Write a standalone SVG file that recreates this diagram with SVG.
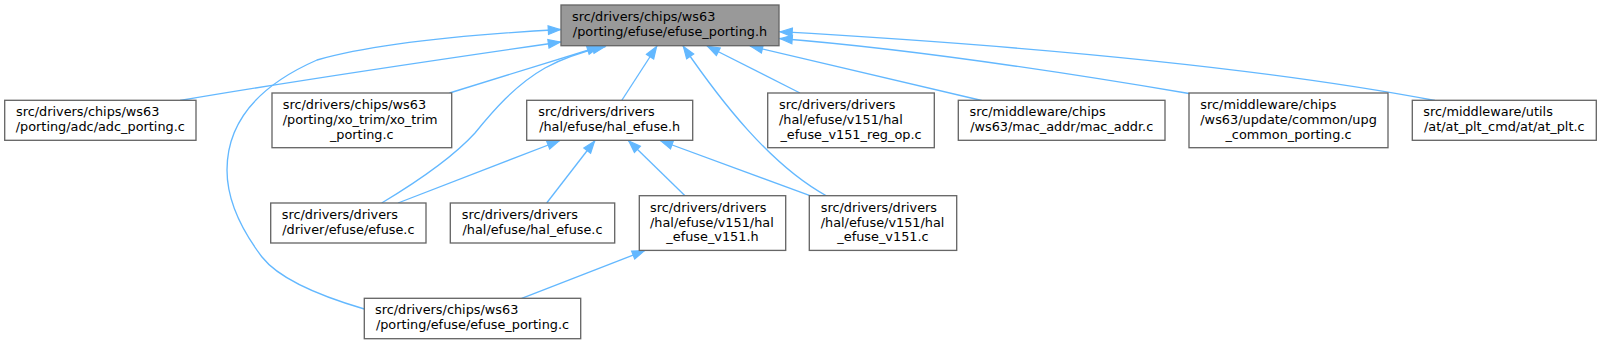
<svg xmlns="http://www.w3.org/2000/svg" width="1602" height="344" viewBox="0 0 1602 344">
<style>
.n rect{fill:#ffffff;stroke:#666666;stroke-width:1.33}
.m rect{fill:#999999;stroke:#666666;stroke-width:1.33}
text{font-family:"DejaVu Sans",sans-serif;font-size:12.85px;fill:#000000}
.c{text-anchor:middle}
.e path{fill:none;stroke:#63b8ff;stroke-width:1.33;marker-end:url(#a)}
</style>
<defs>
<marker id="a" markerUnits="userSpaceOnUse" markerWidth="16" markerHeight="12" refX="13.3" refY="4.67" orient="auto" overflow="visible">
<path d="M0.6,0.4 L12.6,4.67 L0.6,8.93 z" fill="#63b8ff" stroke="#63b8ff" stroke-width="1.2"/>
</marker>
</defs>
<rect width="1602" height="344" fill="#ffffff"/>
<g class="e" id="edges">
<path d="M180,100.5 C300,80 450,58 561,42"/>
<path d="M364.3,309 C320,296 280,280 262,257 C240,228 227,200 227,170 C227,120 260,85 317,60 C370,45 460,35 561,29.5"/>
<path d="M449.5,93 L600,46.5"/>
<path d="M381.7,203 C420,180 455,155 475,133 C492,112 515,85 545,68 C565,57 585,51 605.5,46.5"/>
<path d="M621.7,100.5 L657,46"/>
<path d="M826.7,196 C770,165 720,100 683,46"/>
<path d="M800,93 L707,46"/>
<path d="M981.7,100.5 L750,46"/>
<path d="M1189,93.5 C1050,70 900,48 779.5,38.5"/>
<path d="M1435,100.5 C1300,75 1100,50 779.5,31.7"/>
<path d="M398,203 L560,140.5"/>
<path d="M546.7,203 L595,140.5"/>
<path d="M685,195.7 L628.3,140.5"/>
<path d="M810,195.7 L660,140.5"/>
<path d="M521.7,298.3 L645,250.5"/>
</g>
<g class="m" id="node_main">
<rect x="561" y="5" width="218" height="40.7"/>
<text x="572" y="21">src/drivers/chips/ws63</text>
<text class="c" x="670" y="35.6">/porting/efuse/efuse_porting.h</text>
</g>
<g class="n" id="node_adc">
<rect x="4.7" y="100.3" width="191.3" height="40"/>
<text x="16" y="116.3">src/drivers/chips/ws63</text>
<text class="c" x="100.3" y="130.9">/porting/adc/adc_porting.c</text>
</g>
<g class="n" id="node_xo_trim">
<rect x="272" y="93" width="179.7" height="54.7"/>
<text x="282.7" y="109.3">src/drivers/chips/ws63</text>
<text x="282.7" y="123.9">/porting/xo_trim/xo_trim</text>
<text class="c" x="361.8" y="138.5">_porting.c</text>
</g>
<g class="n" id="node_hal_efuse_h">
<rect x="526.7" y="100.3" width="166" height="40"/>
<text x="538.3" y="116.3">src/drivers/drivers</text>
<text class="c" x="609.7" y="130.9">/hal/efuse/hal_efuse.h</text>
</g>
<g class="n" id="node_reg_op">
<rect x="767.7" y="93" width="166.6" height="54.7"/>
<text x="779" y="109.3">src/drivers/drivers</text>
<text x="779" y="123.9">/hal/efuse/v151/hal</text>
<text class="c" x="851" y="138.5">_efuse_v151_reg_op.c</text>
</g>
<g class="n" id="node_mac_addr">
<rect x="958.3" y="100.3" width="206.7" height="40"/>
<text x="969.5" y="116.3">src/middleware/chips</text>
<text class="c" x="1061.7" y="130.9">/ws63/mac_addr/mac_addr.c</text>
</g>
<g class="n" id="node_upg">
<rect x="1189" y="93" width="199" height="54.7"/>
<text x="1200.3" y="109.3">src/middleware/chips</text>
<text x="1200.3" y="123.9">/ws63/update/common/upg</text>
<text class="c" x="1288.5" y="138.5">_common_porting.c</text>
</g>
<g class="n" id="node_at_plt">
<rect x="1412.3" y="100.3" width="184" height="40"/>
<text x="1423.3" y="116.3">src/middleware/utils</text>
<text class="c" x="1504.3" y="130.9">/at/at_plt_cmd/at/at_plt.c</text>
</g>
<g class="n" id="node_efuse_c">
<rect x="270.7" y="203" width="155.3" height="40"/>
<text x="281.7" y="219">src/drivers/drivers</text>
<text class="c" x="348.4" y="233.6">/driver/efuse/efuse.c</text>
</g>
<g class="n" id="node_hal_efuse_c">
<rect x="450.3" y="203" width="164.4" height="40"/>
<text x="461.7" y="219">src/drivers/drivers</text>
<text class="c" x="532.5" y="233.6">/hal/efuse/hal_efuse.c</text>
</g>
<g class="n" id="node_v151_h">
<rect x="639.3" y="195.7" width="146.4" height="54.7"/>
<text x="650" y="212">src/drivers/drivers</text>
<text x="650" y="226.6">/hal/efuse/v151/hal</text>
<text class="c" x="712.5" y="241.2">_efuse_v151.h</text>
</g>
<g class="n" id="node_v151_c">
<rect x="809.3" y="195.7" width="147.4" height="54.7"/>
<text x="820.7" y="212">src/drivers/drivers</text>
<text x="820.7" y="226.6">/hal/efuse/v151/hal</text>
<text class="c" x="883" y="241.2">_efuse_v151.c</text>
</g>
<g class="n" id="node_efuse_porting_c">
<rect x="364.3" y="298.3" width="216.4" height="40.4"/>
<text x="375" y="314.3">src/drivers/chips/ws63</text>
<text class="c" x="472.5" y="328.9">/porting/efuse/efuse_porting.c</text>
</g>
</svg>
